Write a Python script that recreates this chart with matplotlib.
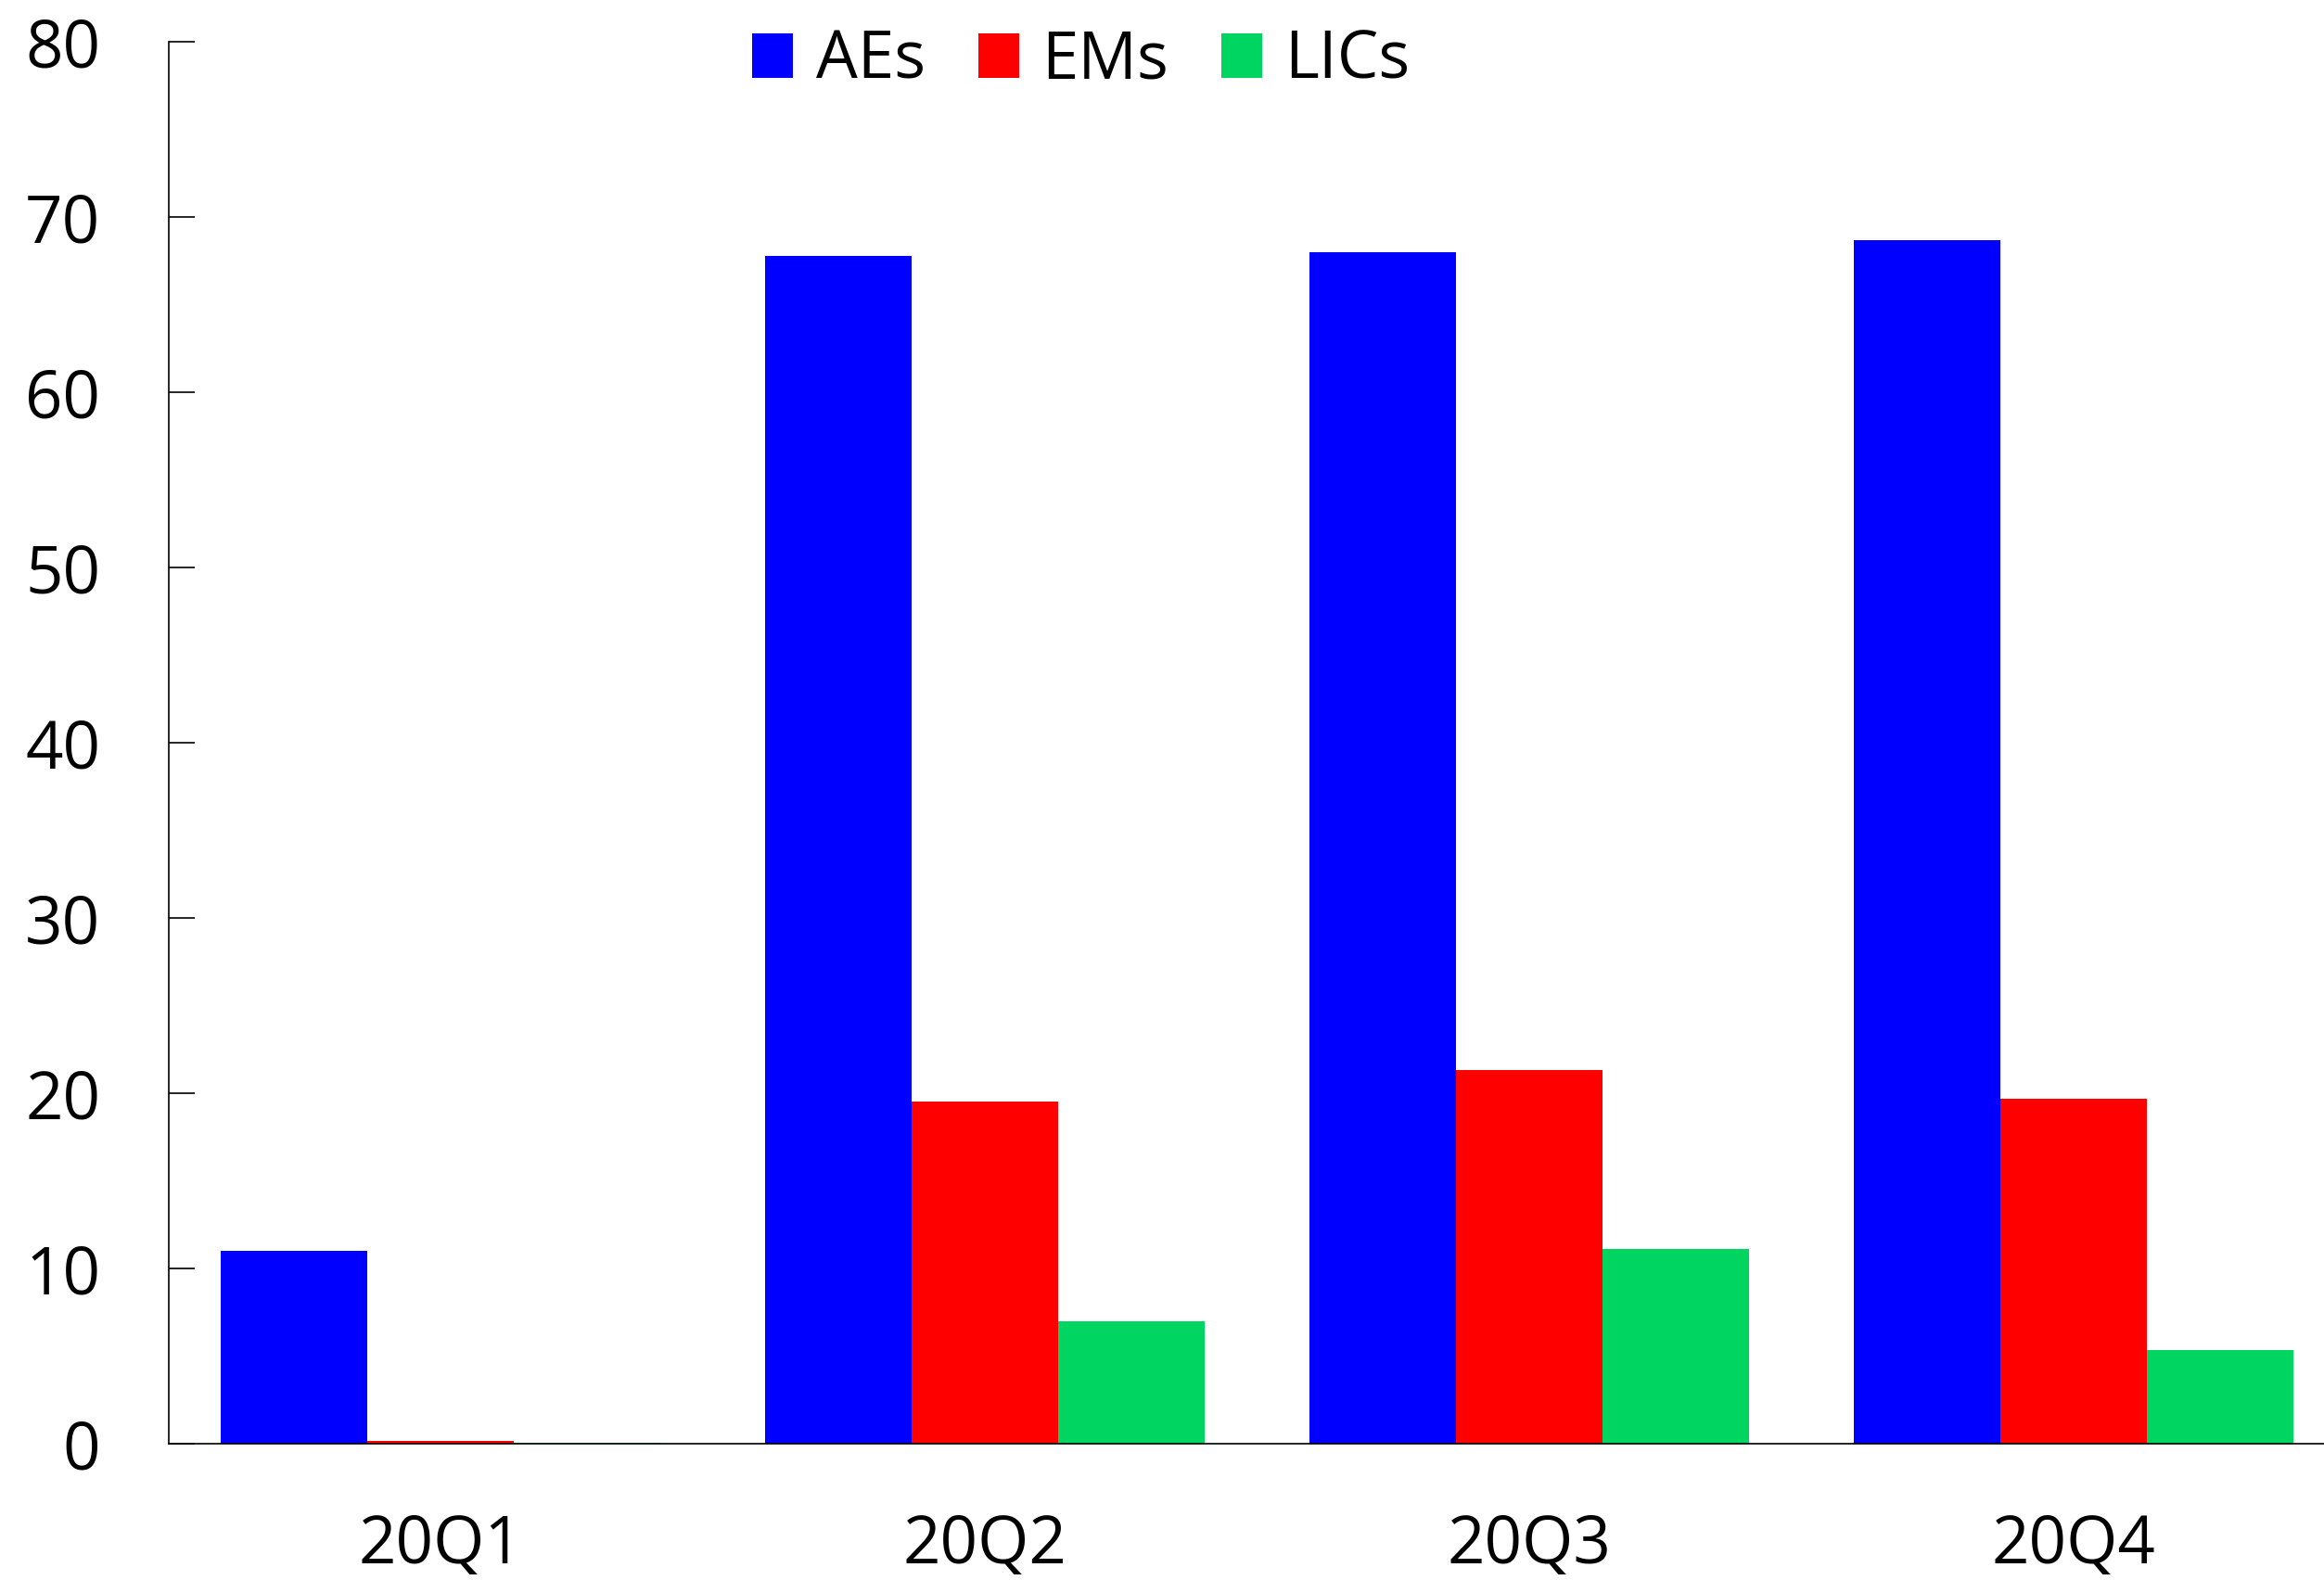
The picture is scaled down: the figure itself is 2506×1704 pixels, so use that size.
import matplotlib
matplotlib.use("Agg")
import matplotlib.pyplot as plt
import numpy as np

plt.rcParams['font.family'] = ['Open Sans', 'DejaVu Sans']

quarters = ["20Q1", "20Q2", "20Q3", "20Q4"]
series_names = ["AEs", "EMs", "LICs"]
aes = [11.0, 67.8, 68.0, 68.7]
ems = [0.15, 19.5, 21.3, 19.7]
lics = [0.03, 7.0, 11.1, 5.35]
colors = ["#0000FF", "#FF0000", "#00D562"]
y_ticks = [0, 10, 20, 30, 40, 50, 60, 70, 80]

fig = plt.figure(figsize=(12.53, 8.52), dpi=200)
ax = fig.add_axes([182 / 2506, 147 / 1704, (2506 - 182) / 2506, (1557 - 45) / 1704])

x = np.arange(len(quarters))
width = 0.269
for i, (vals, name, col) in enumerate(zip([aes, ems, lics], series_names, colors)):
    ax.bar(x + (i - 1) * width, vals, width, color=col, label=name, linewidth=0)

ax.set_xlim(-0.499, 3.46)
ax.set_ylim(0, 80)
ax.set_yticks(y_ticks)
ax.set_xticks(x)
ax.set_xticklabels(quarters)

for s in ["top", "right"]:
    ax.spines[s].set_visible(False)
for s in ["left", "bottom"]:
    ax.spines[s].set_linewidth(0.6)
    ax.spines[s].set_color("black")

ax.tick_params(axis="y", direction="in", length=10, width=0.6, pad=26.5, labelsize=25.5)
ax.tick_params(axis="x", length=0, pad=27, labelsize=25.5)

fig.legend(loc="center", bbox_to_anchor=(1166 / 2506, 1 - 66 / 1704), ncol=3,
           frameon=False, fontsize=25.5, handlelength=0.62, handleheight=0.68,
           handletextpad=0.35, columnspacing=0.8, borderpad=0)

fig.savefig("out.png", dpi=200, facecolor="white")
